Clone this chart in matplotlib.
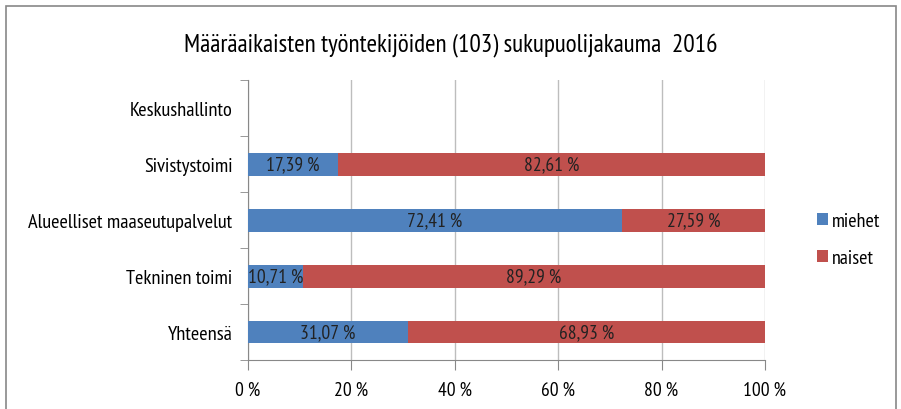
import numpy as np
import matplotlib.pyplot as plt
from matplotlib.patches import Rectangle
from matplotlib.ticker import FixedLocator, FuncFormatter

plt.rcParams['font.family'] = ['PT Sans Narrow', 'DejaVu Sans']

# data
categories = ['Keskushallinto', 'Sivistystoimi', 'Alueelliset maaseutupalvelut',
              'Tekninen toimi', 'Yhteensä']
miehet = [0, 17.39, 72.41, 10.71, 31.07]
naiset = [0, 82.61, 27.59, 89.29, 68.93]
blue, red = '#4F81BD', '#C0504D'

fig = plt.figure(figsize=(9.01, 4.10), dpi=100)
ax = fig.add_axes([0.275, 0.1195, 0.574, 0.6825])

y = np.arange(len(categories))[::-1]
ax.barh(y, miehet, height=0.41, color=blue, label='miehet', zorder=3)
ax.barh(y, naiset, left=miehet, height=0.41, color=red, label='naiset', zorder=3)

def pct(v):
    return f'{v:.2f}\u2009%'.replace('.', ',')

for yi, m, n in zip(y, miehet, naiset):
    if m > 0:
        ax.text(m / 2, yi, pct(m), ha='center', va='center',
                fontsize=14, color='#222222', zorder=4)
    if n > 0:
        ax.text(m + n / 2, yi, pct(n), ha='center', va='center',
                fontsize=14, color='#222222', zorder=4)

ax.set_xlim(0, 100)
ax.set_ylim(-0.5, len(categories) - 0.5)
ax.set_xticks(np.arange(0, 101, 20))
ax.xaxis.set_major_formatter(FuncFormatter(lambda v, p: f'{v:.0f}\u2009%'))
ax.set_yticks(y)
ax.set_yticklabels(categories, fontsize=14.7)
ax.yaxis.set_minor_locator(FixedLocator(np.arange(-0.5, len(categories), 1)))
ax.tick_params(axis='y', which='major', length=0, pad=11)
ax.tick_params(axis='y', which='minor', length=6, color='#888888')
ax.tick_params(axis='x', length=7, color='#888888', labelsize=14, pad=8)
ax.grid(axis='x', color='#BDBDBD', linewidth=1, zorder=0)
for s in ['top', 'right']:
    ax.spines[s].set_visible(False)
for s in ['left', 'bottom']:
    ax.spines[s].set_color('#888888')

ax.legend(loc='center left', bbox_to_anchor=(1.065, 0.43), frameon=False,
          fontsize=14.5, handlelength=0.55, handleheight=0.55, handletextpad=0.2,
          labelspacing=0.95)

fig.text(0.5, 0.888, 'Määräaikaisten työntekijöiden (103) sukupuolijakauma  2016',
         ha='center', va='center', fontsize=18.2)

fig.patches.append(Rectangle((6 / 901, -0.05), 890 / 901, 1.033, transform=fig.transFigure,
                             fill=False, edgecolor='#888888', linewidth=1.2))

fig.savefig('out.png', dpi=100)
